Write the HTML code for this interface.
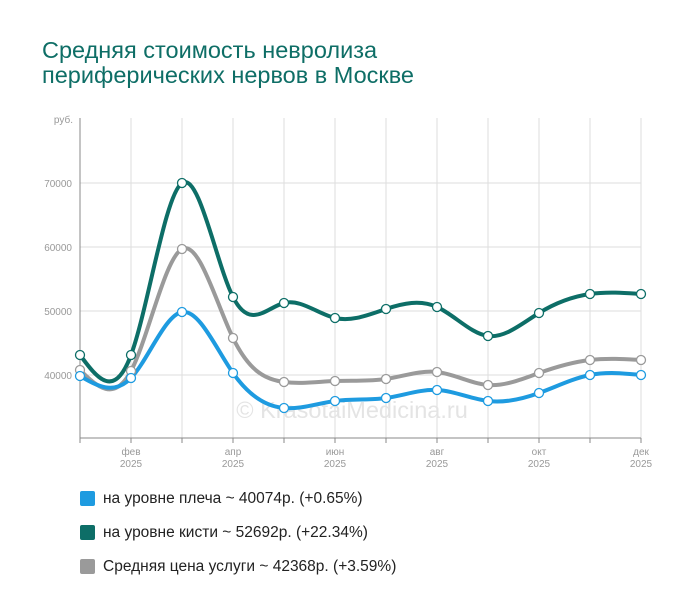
<!DOCTYPE html>
<html><head><meta charset="utf-8"><style>
body{margin:0;background:#fff;width:700px;height:616px;overflow:hidden;font-family:"Liberation Sans",sans-serif}
h1{position:absolute;left:42px;top:38px;margin:0;font-weight:normal;font-size:23.5px;line-height:25px;color:#0e6e66}
.lg{position:absolute;left:80px;font-size:15.5px;color:#222}
.lg i{position:absolute;left:0;top:1px;width:15px;height:15px;border-radius:2px}
.lg span{position:absolute;left:23px;top:0;white-space:nowrap}
</style></head><body>
<h1>Средняя стоимость невролиза<br>периферических нервов в Москве</h1>
<svg id="c" width="700" height="616" style="position:absolute;left:0;top:0" font-family="Liberation Sans, sans-serif"></svg>
<div class="lg" style="top:490px"><i style="background:#1e9be0"></i><span>на уровне плеча ~ 40074р. (+0.65%)</span></div>
<div class="lg" style="top:524px"><i style="background:#0d6e67"></i><span>на уровне кисти ~ 52692р. (+22.34%)</span></div>
<div class="lg" style="top:558px"><i style="background:#9a9a9a"></i><span>Средняя цена услуги ~ 42368р. (+3.59%)</span></div>
<script>
var s='';var X=[];for(var i=0;i<12;i++)X.push(80+i*51);
for(var i=1;i<12;i++)s+='<line x1="'+X[i]+'" y1="118" x2="'+X[i]+'" y2="438" stroke="#ddd"/>';
[183,247,311,375].forEach(function(y,k){s+='<line x1="80" y1="'+y+'" x2="641" y2="'+y+'" stroke="#ddd"/>';s+='<text x="72" y="'+(y+4)+'" text-anchor="end" font-size="10" fill="#999">'+(70000-k*10000)+'</text>';});
s+='<text x="73" y="123" text-anchor="end" font-size="10" fill="#999">руб.</text>';
s+='<line x1="80" y1="118" x2="80" y2="438" stroke="#888"/><line x1="80" y1="438" x2="641" y2="438" stroke="#888"/>';
for(var i=0;i<12;i++)s+='<line x1="'+X[i]+'" y1="438" x2="'+X[i]+'" y2="443" stroke="#888"/>';
var m=['фев','апр','июн','авг','окт','дек'];for(var k=0;k<6;k++){var x=X[1+2*k];s+='<text x="'+x+'" y="455" text-anchor="middle" font-size="10" fill="#999">'+m[k]+'</text><text x="'+x+'" y="467" text-anchor="middle" font-size="10" fill="#999">2025</text>';}
s+='<text x="352" y="418" text-anchor="middle" font-size="23.5" fill="#e4e4e4">© KrasotaiMedicina.ru</text>';
function spline(Y){var n=Y.length,h=51,M=new Array(n).fill(0);
var cp=[],dp=[];cp[0]=0;dp[0]=0;for(var i=1;i<n-1;i++){var r=6*(Y[i+1]-2*Y[i]+Y[i-1])/(h*h);var den=4-cp[i-1];cp[i]=1/den;dp[i]=(r-dp[i-1])/den;}
for(var i=n-2;i>0;i--)M[i]=dp[i]-cp[i]*M[i+1];
var p='M'+X[0]+','+Y[0];for(var i=0;i<n-1;i++){var d0=(Y[i+1]-Y[i])/h-h*(2*M[i]+M[i+1])/6,d1=(Y[i+1]-Y[i])/h+h*(M[i]+2*M[i+1])/6;
p+=' C'+(X[i]+h/3)+','+(Y[i]+d0*h/3)+' '+(X[i+1]-h/3)+','+(Y[i+1]-d1*h/3)+' '+X[i+1]+','+Y[i+1];}return p;}
var S=[['#9a9a9a',[370,371,249,338,382,381,379,372,385,373,360,360]],['#1e9be0',[376,378,312,373,408,401,398,390,401,393,375,375]],['#0d6e67',[355,355,183,297,303,318,309,307,336,313,294,294]]];
S.forEach(function(q){s+='<path d="'+spline(q[1])+'" fill="none" stroke="'+q[0]+'" stroke-width="4"/>';});
S.forEach(function(q){q[1].forEach(function(y,i){s+='<circle cx="'+X[i]+'" cy="'+y+'" r="4.5" fill="#fff" stroke="'+q[0]+'" stroke-width="1.3"/>';});});
document.getElementById('c').innerHTML=s;
</script>
</body></html>
